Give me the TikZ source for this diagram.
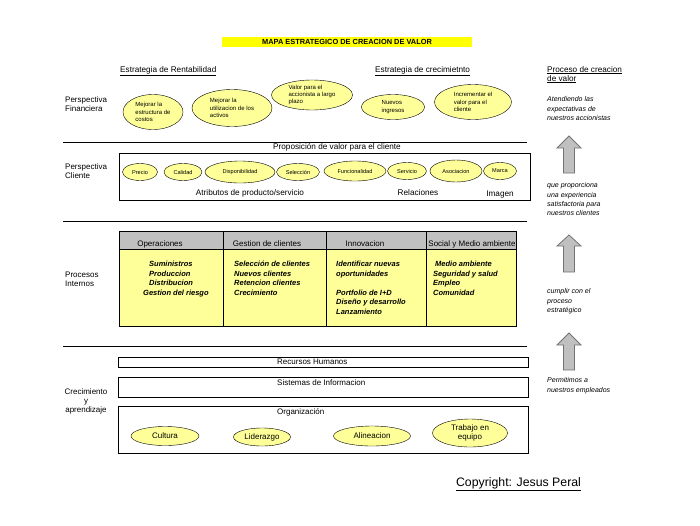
\documentclass[tikz,border=0pt]{standalone}
\usepackage{fontspec}
\setmainfont{Liberation Sans}
\usetikzlibrary{shapes.geometric}
\definecolor{ell}{HTML}{FFFF99}
\definecolor{hdr}{HTML}{C0C0C0}
\definecolor{ttl}{HTML}{FFFF00}
\definecolor{arr}{HTML}{C0C0C0}
\tikzset{
  lab/.style={font=\fontsize{8}{9}\selectfont, align=left, anchor=north west, inner sep=0},
  clab/.style={font=\fontsize{8.2}{9}\selectfont, align=center, inner sep=0},
  ulab/.style={font=\fontsize{8.2}{9}\selectfont, align=left, anchor=north west, inner sep=0},
  hlab/.style={font=\fontsize{8}{9}\selectfont, inner sep=0},
  rlab/.style={font=\itshape\fontsize{7}{9.3}\selectfont, align=left, anchor=north west, inner sep=0},
  body/.style={font=\bfseries\itshape\fontsize{7.5}{9.5}\selectfont, align=left, anchor=north west, inner sep=0},
  ov/.style={ellipse, draw, fill=ell, inner sep=0, font=\fontsize{6}{7.3}\selectfont, align=left},
  cov/.style={ellipse, draw, fill=ell, inner sep=0, font=\fontsize{5.6}{6}\selectfont},
  oov/.style={ellipse, draw, fill=ell, inner sep=0, font=\fontsize{8}{9}\selectfont, align=center},
  frame/.style={draw, rectangle, inner sep=0, line width=0.8pt},
  uparrow/.style={draw=black!55, fill=arr, line width=0.8pt},
}
\begin{document}
\begin{tikzpicture}[x=1pt,y=-1pt]
\useasboundingbox (0,0) rectangle (700,525);
\fill[white] (0,0) rectangle (700,525);

% title
\node[fill=ttl, minimum width=250, minimum height=10, inner sep=0, font=\bfseries\fontsize{7.4}{8}\selectfont] (title) at (347,42) {MAPA ESTRATEGICO DE CREACION DE VALOR};

% strategy headings
\node[ulab] (rent) at (120,66) {\underline{Estrategia de Rentabilidad}};
\node[ulab] (crec) at (375,66) {\underline{Estrategia de crecimietnto}};
\node[ulab] (proc) at (547,66) {\underline{Proceso de creacion}\\\underline{de valor}};

% perspective labels
\node[lab] (pf) at (65,96) {Perspectiva\\Financiera};
\node[lab] (pc) at (65,163) {Perspectiva\\Cliente};
\node[lab] (pi) at (65,272) {Procesos\\Internos};
\node[lab, align=center, anchor=north] (pa) at (86,388) {Crecimiento\\y\\aprendizaje};

% financial ellipses
\node[ov, minimum width=60, minimum height=35] (f1) at (153,112) {Mejorar la\\estructura de\\costos};
\node[ov, minimum width=80, minimum height=37] (f2) at (232,108) {Mejorar la\\utilizacion de los\\activos};
\node[ov, minimum width=81, minimum height=30] (f3) at (312,95) {Valor para el\\accionista a largo\\plazo};
\node[ov, minimum width=63, minimum height=25] (f4) at (393,107) {Nuevos\\ingresos};
\node[ov, minimum width=77, minimum height=35] (f5) at (473,102) {Incrementar el\\valor para el\\cliente};

% separators
\draw[line width=0.8pt] (63,142) -- (527,142);
\draw[line width=0.8pt] (63,221) -- (527,221);
\draw[line width=0.8pt] (63,346) -- (527,346);

% client
\node[clab] (prop) at (337,147) {Proposición de valor para el cliente};
\node[frame, minimum width=411, minimum height=47] (cbox) at (324.5,176.5) {};
\node[cov, minimum width=35, minimum height=17] (c1) at (140,172) {Precio};
\node[cov, minimum width=38, minimum height=17] (c2) at (183,172) {Calidad};
\node[cov, minimum width=70, minimum height=22] (c3) at (240,172) {Disponibilidad};
\node[cov, minimum width=43, minimum height=17] (c4) at (298,172) {Selección};
\node[cov, minimum width=62, minimum height=20] (c5) at (355,171) {Funcionalidad};
\node[cov, minimum width=39, minimum height=17] (c6) at (407,171) {Servicio};
\node[cov, minimum width=52, minimum height=22] (c7) at (456,171) {Asociacion};
\node[cov, minimum width=33, minimum height=17] (c8) at (500,171) {Marca};
\node[clab] (attr) at (250,193) {Atributos de producto/servicio};
\node[clab] (rel) at (418,193) {Relaciones};
\node[clab] (img) at (500,195) {Imagen};

% internal processes table
\fill[ell] (119,231) rectangle (516,326);
\fill[hdr] (119,231) rectangle (516,249);
\draw[line width=0.8pt] (119,231) rectangle (516,326);
\draw[line width=0.8pt] (119,249) -- (516,249);
\foreach \xx in {223,326,426} \draw[line width=0.8pt] (\xx,231) -- (\xx,326);
\node[hlab] (h1) at (160,244) {Operaciones};
\node[hlab] (h2) at (267,244) {Gestion de clientes};
\node[hlab] (h3) at (365,244) {Innovacion};
\node[hlab] (h4) at (472,244) {Social y Medio ambiente};
\node[body] (b1) at (143,261) {\hspace*{6pt}Suministros\\\hspace*{6pt}Produccion\\\hspace*{6pt}Distribucion\\Gestion del riesgo};
\node[body] (b2) at (234,261) {Selección de clientes\\Nuevos clientes\\Retencion clientes\\Crecimiento};
\node[body] (b3) at (336,261) {Identificar nuevas\\oportunidades\\[9.5pt]Portfolio de I+D\\Diseño y desarrollo\\Lanzamiento};
\node[body] (b4) at (433,261) {\hspace*{2pt}Medio ambiente\\Seguridad y salud\\Empleo\\Comunidad};

% learning & growth
\node[frame, minimum width=410, minimum height=10] (rh) at (323,362) {};
\node[hlab, anchor=west] (rht) at (277,362) {Recursos Humanos};
\node[frame, minimum width=410, minimum height=20] (si) at (323,387) {};
\node[hlab, anchor=west] (sit) at (277,383) {Sistemas de Informacion};
\node[frame, minimum width=410, minimum height=47] (org) at (323,429.5) {};
\node[hlab, anchor=west] (orgt) at (277,412) {Organización};
\node[oov, minimum width=68, minimum height=19] (o1) at (165,436) {Cultura};
\node[oov, minimum width=57, minimum height=18] (o2) at (262,437) {Liderazgo};
\node[oov, minimum width=77, minimum height=20] (o3) at (372,436) {Alineacion};
\node[oov, minimum width=75, minimum height=28] (o4) at (470,433) {Trabajo en\\equipo};

% right column
\node[rlab] (r1) at (547,96.5) {Atendiendo las\\expectativas de\\nuestros accionistas};
\node[rlab] (r2) at (547,182.5) {que proporciona\\una experiencia\\satisfactoria para\\nuestros clientes};
\node[rlab] (r3) at (547,288.5) {cumplir con el\\proceso\\estratégico};
\node[rlab] (r4) at (547,377.5) {Permitimos a\\nuestros empleados};
\foreach \t/\h/\b in {136/148/173, 235/246/272, 333/345/370}{
  \draw[uparrow] (569,\t) -- (581,\h) -- (574.5,\h) -- (574.5,\b) -- (563.5,\b) -- (563.5,\h) -- (557,\h) -- cycle;
}

% copyright
\node[inner sep=0, font=\fontsize{12.3}{14}\selectfont] (copy) at (518.5,484) {\underline{Copyright: Jesus Peral}};
\end{tikzpicture}
\end{document}
